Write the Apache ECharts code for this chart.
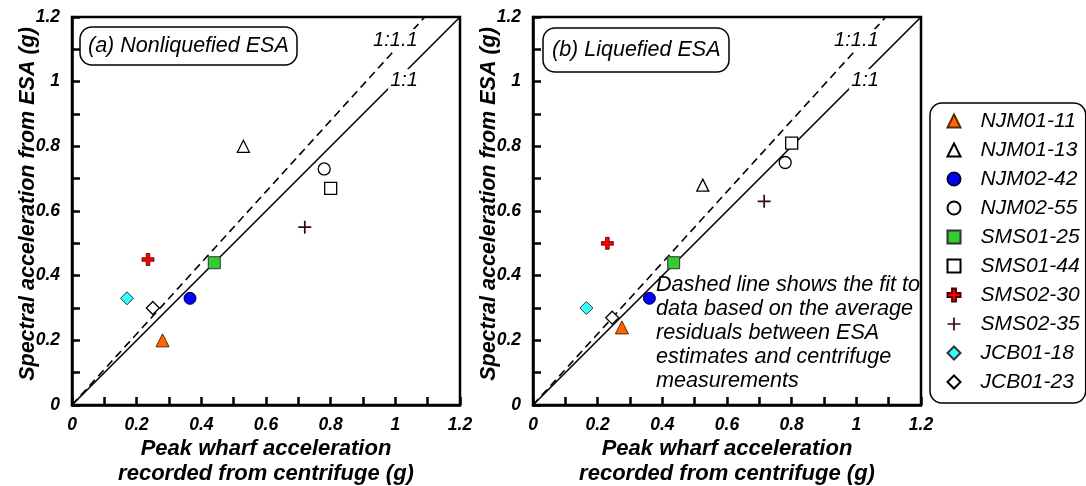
<!DOCTYPE html>
<html>
<head>
<meta charset="utf-8">
<script src="https://cdn.jsdelivr.net/npm/echarts@6/dist/echarts.min.js"></script>
<style>
  html, body { margin: 0; padding: 0; background: #fff; }
  #chart { width: 1086px; height: 486px; }
</style>
</head>
<body>
<div id="chart"></div>
<script>
// Test names, in legend order
const SERIES_NAMES = ['NJM01-11', 'NJM01-13', 'NJM02-42', 'NJM02-55', 'SMS01-25',
                      'SMS01-44', 'SMS02-30', 'SMS02-35', 'JCB01-18', 'JCB01-23'];

// (a) Nonliquefied ESA: peak wharf acceleration (x) vs ESA spectral acceleration (y), in g
const PEAK_NONLIQ = [0.28, 0.53, 0.365, 0.78, 0.44, 0.80, 0.235, 0.72, 0.17, 0.25];
const ESA_NONLIQ  = [0.20, 0.80, 0.33, 0.73, 0.44, 0.67, 0.45, 0.55, 0.33, 0.30];

// (b) Liquefied ESA
const PEAK_LIQ = [0.275, 0.525, 0.36, 0.78, 0.435, 0.80, 0.23, 0.715, 0.165, 0.245];
const ESA_LIQ  = [0.24, 0.68, 0.33, 0.75, 0.44, 0.81, 0.50, 0.63, 0.30, 0.27];

// Reference lines: 1:1 and the 1:1.1 fit, as end points
const LINE_ONE_TO_ONE = [[0, 0], [1.2, 1.2]];
const LINE_FIT = [[0, 0], [1.0909, 1.2]];
const LINE_TAGS = ['1:1.1', '1:1'];
const LINE_TAG_POS = [[1.0, 1.129], [1.027, 1.005]];

// Axis tick labels (ticks every 0.1, labels every 0.2)
const TICK_LABELS = ['0', '0.2', '0.4', '0.6', '0.8', '1', '1.2'];

const PANEL_TITLES = ['(a) Nonliquefied ESA', '(b) Liquefied ESA'];
const NOTE_LINES = ['Dashed line shows the fit to', 'data based on the average',
                    'residuals between ESA', 'estimates and centrifuge', 'measurements'];

const FONT = "'Liberation Sans', Arial, Helvetica, sans-serif";

const PLUS_THICK = 'path://M4.2,0 H7.8 V4.2 H12 V7.8 H7.8 V12 H4.2 V7.8 H0 V4.2 H4.2 Z';
const PLUS_THIN = 'path://M5.2,0 H6.8 V5.2 H12 V6.8 H6.8 V12 H5.2 V6.8 H0 V5.2 H5.2 Z';

// Marker style for each test
const MARKERS = [
  { symbol: 'triangle', size: 13, color: '#ff6600', border: '#5a2a00', bw: 1 },
  { symbol: 'triangle', size: 12, color: '#ffffff', border: '#000000', bw: 1.3 },
  { symbol: 'circle',   size: 12, color: '#0000ff', border: '#000033', bw: 1 },
  { symbol: 'circle',   size: 12, color: '#ffffff', border: '#000000', bw: 1.3 },
  { symbol: 'rect',     size: 12, color: '#33cc33', border: '#333333', bw: 1 },
  { symbol: 'rect',     size: 12, color: '#ffffff', border: '#000000', bw: 1.3 },
  { symbol: PLUS_THICK, size: 12, color: '#ff0000', border: '#550000', bw: 0.8 },
  { symbol: PLUS_THIN,  size: 13, color: '#3a0a0a', border: '#3a0a0a', bw: 0 },
  { symbol: 'diamond',  size: 13, color: '#33ffff', border: '#333333', bw: 1 },
  { symbol: 'diamond',  size: 13, color: '#ffffff', border: '#000000', bw: 1.3 }
];

const GRIDS = [
  { left: 72, top: 17, width: 388, height: 388 },
  { left: 533, top: 17, width: 388, height: 388 }
];

function tickFormatter(v) {
  const k = Math.round(v * 10);
  return k % 2 === 0 ? TICK_LABELS[k / 2] : '';
}

const tickFont = { color: '#000', fontFamily: FONT, fontSize: 17.5, fontWeight: 'bold', fontStyle: 'italic' };
const nameFont = { color: '#000', fontFamily: FONT, fontWeight: 'bold', fontStyle: 'italic' };

function makeAxis(type, gi) {
  const isX = type === 'x';
  return {
    type: 'value',
    gridIndex: gi,
    min: 0, max: 1.2, interval: 0.1,
    name: isX ? 'Peak wharf acceleration\nrecorded from centrifuge (g)' : 'Spectral acceleration from ESA (g)',
    nameLocation: 'middle',
    nameMoveOverlap: false,
    nameGap: isX ? 31 : 31,
    nameTextStyle: isX
      ? Object.assign({ fontSize: 22, lineHeight: 25 }, nameFont)
      : Object.assign({ fontSize: 21.5, lineHeight: 25, padding: [0, 0, 0, 14] }, nameFont),
    axisLine: { show: true, onZero: false, lineStyle: { color: '#000', width: 2.5 } },
    axisTick: { show: true, inside: true, length: 8, lineStyle: { color: '#000', width: 2.5 } },
    axisLabel: Object.assign({ formatter: tickFormatter, margin: isX ? 11 : 12, showMinLabel: true, showMaxLabel: true }, tickFont),
    splitLine: { show: false }
  };
}

const series = [];
[[PEAK_NONLIQ, ESA_NONLIQ], [PEAK_LIQ, ESA_LIQ]].forEach(function (panel, gi) {
  // 1:1 line
  series.push({
    type: 'line', xAxisIndex: gi, yAxisIndex: gi, data: LINE_ONE_TO_ONE,
    symbol: 'none', silent: true, z: 2,
    lineStyle: { color: '#000', width: 1.6 }
  });
  // 1:1.1 fit line
  series.push({
    type: 'line', xAxisIndex: gi, yAxisIndex: gi, data: LINE_FIT,
    symbol: 'none', silent: true, z: 2,
    lineStyle: { color: '#000', width: 1.6, type: [8, 5] }
  });
  // line tags with white backing
  series.push({
    type: 'scatter', xAxisIndex: gi, yAxisIndex: gi, silent: true, z: 3,
    symbolSize: 1, itemStyle: { color: 'rgba(0,0,0,0)', opacity: 1 },
    data: LINE_TAG_POS.map(function (p, i) { return { value: p, name: LINE_TAGS[i] }; }),
    label: {
      show: true, position: 'inside', formatter: '{b}', opacity: 1,
      color: '#000', fontFamily: FONT, fontSize: 20, fontStyle: 'italic',
      backgroundColor: '#ffffff', padding: [1, 2]
    }
  });
  // measured points
  SERIES_NAMES.forEach(function (name, i) {
    const m = MARKERS[i];
    series.push({
      type: 'scatter', name: name, xAxisIndex: gi, yAxisIndex: gi, z: 4,
      symbol: m.symbol, symbolSize: m.size,
      itemStyle: { color: m.color, borderColor: m.border, borderWidth: m.bw, opacity: 1 },
      data: [[panel[0][i], panel[1][i]]]
    });
  });
});

const panelTitleStyle = { color: '#000', fontFamily: FONT, fontSize: 21.5, fontStyle: 'italic', fontWeight: 'normal' };

const option = {
  backgroundColor: '#fff',
  animation: false,
  title: [
    {
      text: PANEL_TITLES[0], left: 80, top: 27, padding: [8, 8],
      borderColor: '#000', borderWidth: 1.5, borderRadius: 12, backgroundColor: '#fff',
      textStyle: panelTitleStyle
    },
    {
      text: PANEL_TITLES[1], left: 543, top: 28, padding: [11, 9],
      borderColor: '#000', borderWidth: 1.5, borderRadius: 12, backgroundColor: '#fff',
      textStyle: panelTitleStyle
    },
    {
      text: NOTE_LINES.join('\n'), left: 656, top: 273, padding: 0,
      textStyle: { color: '#000', fontFamily: FONT, fontSize: 21.6, fontStyle: 'italic', fontWeight: 'normal', lineHeight: 24 }
    }
  ],
  legend: {
    data: SERIES_NAMES,
    orient: 'vertical',
    left: 930, top: 103,
    padding: [7, 6, 10, 16.5],
    itemWidth: 13, itemHeight: 13, itemGap: 7,
    borderColor: '#000', borderWidth: 1.5, borderRadius: 12,
    selectedMode: false,
    textStyle: { color: '#000', fontFamily: FONT, fontSize: 21, fontStyle: 'italic', lineHeight: 22, padding: [0, 0, 0, 15] }
  },
  grid: GRIDS.map(function (g) {
    return Object.assign({
      show: true, borderColor: '#000', borderWidth: 2.5, backgroundColor: '#fff',
      containLabel: false, outerBoundsMode: 'none'
    }, g);
  }),
  xAxis: [makeAxis('x', 0), makeAxis('x', 1)],
  yAxis: [makeAxis('y', 0), makeAxis('y', 1)],
  series: series
};

const chart = echarts.init(document.getElementById('chart'), null, { renderer: 'canvas' });
chart.setOption(option);
</script>
</body>
</html>
